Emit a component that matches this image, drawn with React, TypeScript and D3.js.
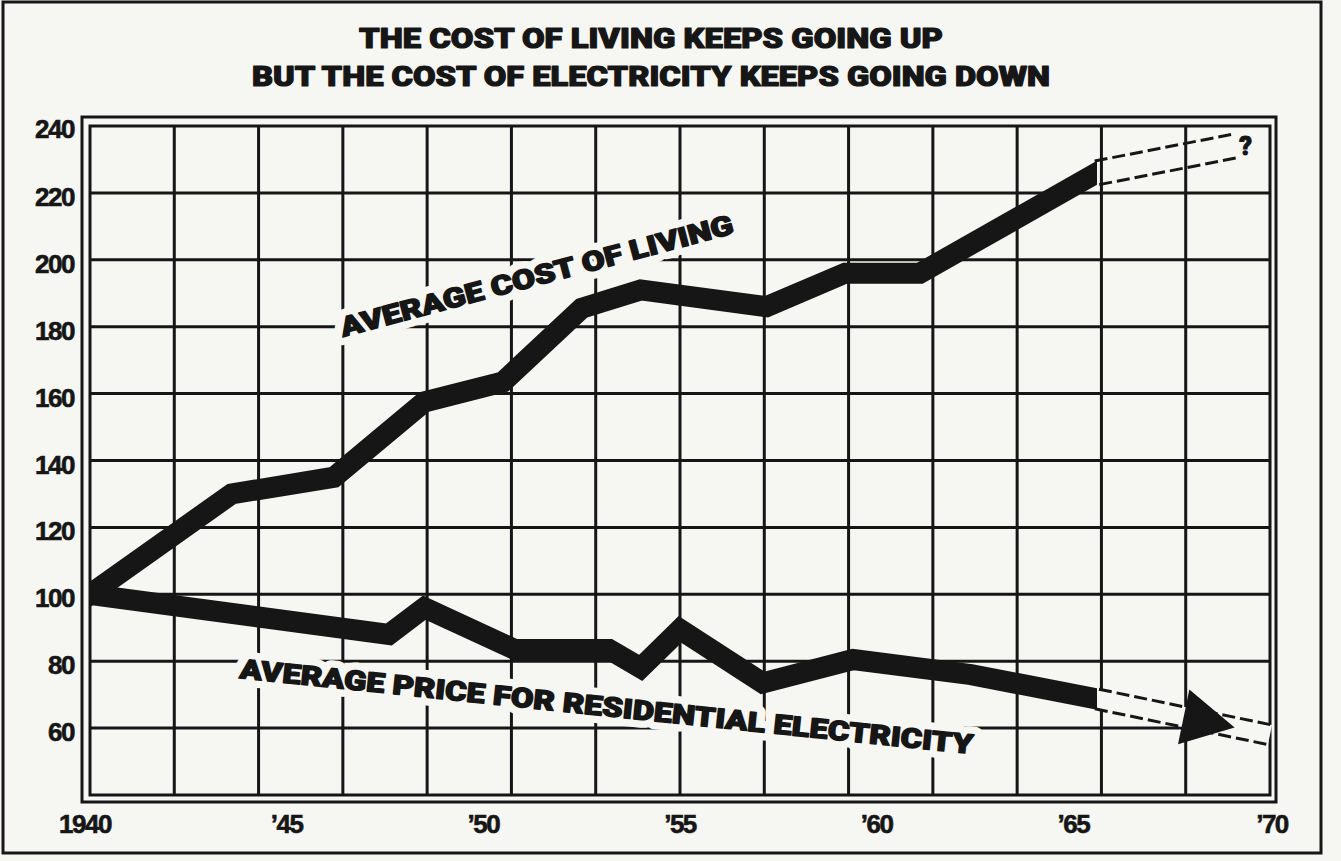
import React from "react";
import * as d3 from "d3";

const WIDTH = 1341;
const HEIGHT = 861;
const PLOT = { left: 90, right: 1270, top: 126, bottom: 795 };
const INK = "#161616";
const PAPER = "#f6f6f3";
const HEAVY = "Roboto, 'Liberation Sans', Arial, sans-serif";
const PLAIN = "'Liberation Sans', Arial, sans-serif";

// title lines
const titleLines = [
  "THE COST OF LIVING KEEPS GOING UP",
  "BUT THE COST OF ELECTRICITY KEEPS GOING DOWN",
];

// axis ticks
const yTicks = [60, 80, 100, 120, 140, 160, 180, 200, 220, 240];
const xTickYears = [1940, 1945, 1950, 1955, 1960, 1965, 1970];
const xTickLabels = ["1940", "’45", "’50", "’55", "’60", "’65", "’70"];
const GRID_COLUMNS = 14;

// average cost of living (index, 1940 = 100)
const costYears = [1940, 1943.6, 1946.2, 1948.5, 1950.5, 1952.5, 1954, 1957.2, 1959.2, 1961.1, 1965.6];
const costValues = [100, 130, 135, 157.5, 163.5, 185.5, 191, 186, 196, 196, 226];
const costProjYears = [1965.6, 1969.1];
const costProjValues = [226, 234];

// average price for residential electricity (index, 1940 = 100)
const elecYears = [1940, 1947.6, 1948.5, 1950.8, 1953.2, 1954, 1955, 1957.1, 1959.4, 1962.4, 1965.6];
const elecValues = [100, 88, 96, 83.5, 83.5, 78, 89.5, 73.5, 80.5, 76, 68.7];
const elecProjYears = [1965.6, 1970];
const elecProjValues = [68.7, 58];
const elecArrowYear = 1969.1;

const LINE_W = 21;

type P = [number, number];

function HaloLabel(props: { from: number[]; to: number[]; text: string }) {
  const { from, to, text } = props;
  const ang = (Math.atan2(to[1] - from[1], to[0] - from[0]) * 180) / Math.PI;
  const len = Math.hypot(to[0] - from[0], to[1] - from[1]);
  const common = {
    transform: `translate(${from[0]},${from[1]}) rotate(${ang})`,
    fontFamily: HEAVY,
    fontWeight: 900,
    fontSize: 27,
    textLength: len,
    lengthAdjust: "spacingAndGlyphs",
  };
  return (
    <g>
      <text {...common} fill={PAPER} stroke={PAPER} strokeWidth={16} strokeLinejoin="round">
        {text}
      </text>
      <text {...common} fill={INK} stroke={INK} strokeWidth={1.4} strokeLinejoin="round">
        {text}
      </text>
    </g>
  );
}

export default function App() {
  const x = d3.scaleLinear().domain([1940, 1970]).range([PLOT.left, PLOT.right]);
  const y = d3.scaleLinear().domain([40, 240]).range([PLOT.bottom, PLOT.top]);

  const line = d3
    .line<P>()
    .x((d) => x(d[0]))
    .y((d) => y(d[1]));

  const costPts: P[] = costYears.map((yr, i) => [yr, costValues[i]]);
  const elecPts: P[] = elecYears.map((yr, i) => [yr, elecValues[i]]);

  const gridX = d3.range(GRID_COLUMNS + 1).map((i) => 1940 + (i * 30) / GRID_COLUMNS);

  // edges of a projected band (pixel space)
  const band = (yrs: number[], vals: number[], half: number) => {
    const a: P = [x(yrs[0]), y(vals[0])];
    const b: P = [x(yrs[1]), y(vals[1])];
    const len = Math.hypot(b[0] - a[0], b[1] - a[1]);
    const ux = (b[0] - a[0]) / len;
    const uy = (b[1] - a[1]) / len;
    const nx = -uy * half;
    const ny = ux * half;
    return {
      a, b, ux, uy,
      upper: [[a[0] + nx, a[1] + ny], [b[0] + nx, b[1] + ny]] as P[],
      lower: [[a[0] - nx, a[1] - ny], [b[0] - nx, b[1] - ny]] as P[],
    };
  };

  const costBand = band(costProjYears, costProjValues, 12);
  const elecBand = band(elecProjYears, elecProjValues, 10);

  // arrow on electricity projection
  const t = (x(elecArrowYear) - elecBand.a[0]) / (elecBand.b[0] - elecBand.a[0]);
  const tip: P = [
    elecBand.a[0] + (elecBand.b[0] - elecBand.a[0]) * t,
    elecBand.a[1] + (elecBand.b[1] - elecBand.a[1]) * t,
  ];
  const baseC: P = [tip[0] - elecBand.ux * 52, tip[1] - elecBand.uy * 52];
  const arrow: P[] = [
    tip,
    [baseC[0] - elecBand.uy * 28, baseC[1] + elecBand.ux * 28],
    [baseC[0] + elecBand.uy * 28, baseC[1] - elecBand.ux * 28],
  ];

  const seg = (pts: P[]) => `M${pts[0][0]},${pts[0][1]}L${pts[1][0]},${pts[1][1]}`;

  return (
    <svg
      width={WIDTH}
      height={HEIGHT}
      style={{ position: "absolute", left: 0, top: 0, background: PAPER }}
    >
      <rect x={3} y={2} width={1318} height={851} fill="none" stroke={INK} strokeWidth={3} />

      {/* title */}
      {titleLines.map((t, i) => (
        <text
          key={t}
          x={651}
          y={48 + i * 38}
          textAnchor="middle"
          fontFamily={HEAVY}
          fontWeight={900}
          fontSize={28}
          fill={INK}
          stroke={INK}
          strokeWidth={1.2}
          strokeLinejoin="round"
          textLength={i === 0 ? 584 : 798}
          lengthAdjust="spacingAndGlyphs"
        >
          {t}
        </text>
      ))}

      {/* grid */}
      <g stroke={INK} strokeWidth={3}>
        {gridX.slice(1, -1).map((g) => (
          <line key={g} x1={x(g)} x2={x(g)} y1={PLOT.top} y2={PLOT.bottom} />
        ))}
        {yTicks
          .filter((v) => v < 240)
          .map((v) => (
            <line key={v} x1={PLOT.left} x2={PLOT.right} y1={y(v)} y2={y(v)} />
          ))}
      </g>

      {/* frames */}
      <rect x={PLOT.left} y={PLOT.top} width={PLOT.right - PLOT.left} height={PLOT.bottom - PLOT.top} fill="none" stroke={INK} strokeWidth={3} />
      <rect x={PLOT.left - 8} y={PLOT.top - 9} width={PLOT.right - PLOT.left + 14} height={PLOT.bottom - PLOT.top + 16} fill="none" stroke={INK} strokeWidth={3} />

      {/* y axis labels */}
      {yTicks.map((v) => (
        <text
          key={v}
          x={74}
          y={y(v) + (v === 240 ? 12 : 13)}
          textAnchor="end"
          fontFamily={PLAIN}
          fontWeight={700}
          fontSize={26}
          letterSpacing={-1.5}
          fill={INK}
          stroke={INK}
          strokeWidth={0.6}
        >
          {v}
        </text>
      ))}

      {/* x axis labels */}
      {xTickYears.map((yr, i) => (
        <text
          key={yr}
          x={x(yr) - (yr === 1940 ? 5 : 0) + (yr === 1970 ? 2 : 0)}
          y={833}
          textAnchor="middle"
          fontFamily={PLAIN}
          fontWeight={700}
          fontSize={26}
          letterSpacing={-1.5}
          fill={INK}
          stroke={INK}
          strokeWidth={0.6}
        >
          {xTickLabels[i]}
        </text>
      ))}

      {/* series labels with paper halo */}
      <HaloLabel from={[343, 337]} to={[735, 233]} text="AVERAGE COST OF LIVING" />
      <HaloLabel from={[239, 678]} to={[972, 754]} text="AVERAGE PRICE FOR RESIDENTIAL ELECTRICITY" />

      {/* projections */}
      <path
        d={`M${elecBand.upper[0]}L${elecBand.upper[1]}L${elecBand.lower[1]}L${elecBand.lower[0]}Z`}
        fill={PAPER}
      />
      <g stroke={INK} strokeWidth={3} strokeDasharray="13 5" fill="none">
        <path d={seg(costBand.upper)} />
        <path d={seg(costBand.lower)} />
        <path d={seg(elecBand.upper)} />
        <path d={seg(elecBand.lower)} />
      </g>
      <path d={`M${arrow.map((p) => p.join(",")).join("L")}Z`} fill={INK} />
      <text
        x={costBand.b[0] + 11}
        y={costBand.b[1] + 9}
        textAnchor="middle"
        fontFamily={HEAVY}
        fontWeight={900}
        fontSize={25}
        fill={INK}
        stroke={INK}
        strokeWidth={1}
      >
        ?
      </text>

      {/* data lines */}
      <clipPath id="lineClip">
        <rect x={x(1940)} y={0} width={x(1965.6) - x(1940)} height={HEIGHT} />
      </clipPath>
      <g clipPath="url(#lineClip)" fill="none" stroke={INK} strokeWidth={LINE_W} strokeLinejoin="miter" strokeMiterlimit={3} strokeLinecap="square">
        <path d={line(costPts) ?? ""} />
        <path d={line(elecPts) ?? ""} />
      </g>
    </svg>
  );
}
